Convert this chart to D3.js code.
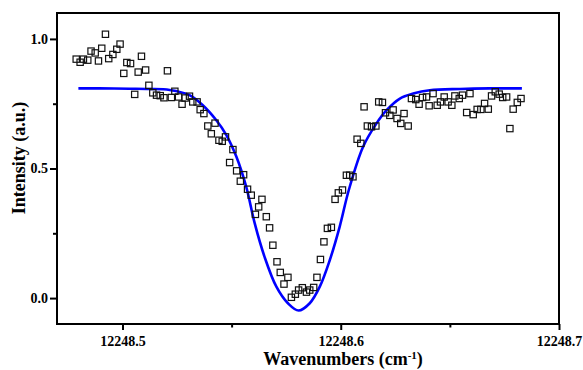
<!DOCTYPE html>
<html>
<head>
<meta charset="utf-8">
<script src="https://cdn.jsdelivr.net/npm/d3@7"></script>
<style>
  html, body { margin: 0; padding: 0; background: #fff; }
  svg { display: block; font-family: 'Liberation Serif', 'Times New Roman', serif; }
</style>
</head>
<body>
<svg></svg>
<script>
// measured spectrum (wavenumber, intensity)
const wavenumbers = [
  12248.4788, 12248.4806, 12248.4821, 12248.4841, 12248.4856, 12248.4875, 12248.4890, 12248.4905,
  12248.4922, 12248.4937, 12248.4956, 12248.4974, 12248.4989, 12248.5006, 12248.5020, 12248.5037,
  12248.5056, 12248.5072, 12248.5087, 12248.5106, 12248.5121, 12248.5139, 12248.5156, 12248.5173,
  12248.5190, 12248.5206, 12248.5224, 12248.5240, 12248.5257, 12248.5273, 12248.5287, 12248.5307,
  12248.5322, 12248.5342, 12248.5356, 12248.5373, 12248.5391, 12248.5407, 12248.5424, 12248.5442,
  12248.5457, 12248.5472, 12248.5491, 12248.5506, 12248.5523, 12248.5540, 12248.5555, 12248.5573,
  12248.5590, 12248.5609, 12248.5624, 12248.5639, 12248.5659, 12248.5674, 12248.5689, 12248.5708,
  12248.5723, 12248.5740, 12248.5758, 12248.5774, 12248.5792, 12248.5807, 12248.5824, 12248.5843,
  12248.5858, 12248.5876, 12248.5891, 12248.5907, 12248.5923, 12248.5939, 12248.5957, 12248.5974,
  12248.5989, 12248.6008, 12248.6026, 12248.6041, 12248.6056, 12248.6075, 12248.6092, 12248.6107,
  12248.6122, 12248.6141, 12248.6161, 12248.6174, 12248.6191, 12248.6205, 12248.6225, 12248.6240,
  12248.6258, 12248.6275, 12248.6290, 12248.6309, 12248.6324, 12248.6344, 12248.6359, 12248.6375,
  12248.6393, 12248.6405, 12248.6423, 12248.6442, 12248.6457, 12248.6474, 12248.6492, 12248.6509,
  12248.6523, 12248.6543, 12248.6558, 12248.6577, 12248.6592, 12248.6607, 12248.6625, 12248.6642,
  12248.6659, 12248.6676, 12248.6691, 12248.6708, 12248.6726, 12248.6742, 12248.6760, 12248.6775,
  12248.6790, 12248.6809, 12248.6826
]
const intensities = [
  0.922, 0.910, 0.922, 0.918, 0.953, 0.946, 0.915, 0.964,
  1.018, 0.924, 0.940, 0.960, 0.980, 0.867, 0.909, 0.905,
  0.786, 0.872, 0.933, 0.880, 0.821, 0.792, 0.783, 0.781,
  0.773, 0.877, 0.774, 0.798, 0.776, 0.748, 0.772, 0.779,
  0.757, 0.757, 0.727, 0.712, 0.664, 0.634, 0.675, 0.609,
  0.605, 0.622, 0.523, 0.573, 0.491, 0.451, 0.476, 0.420,
  0.397, 0.323, 0.352, 0.381, 0.314, 0.271, 0.204, 0.140,
  0.099, 0.054, 0.080, 0.003, 0.015, 0.031, 0.040, 0.023,
  0.031, 0.041, 0.080, 0.149, 0.217, 0.269, 0.273, 0.381,
  0.406, 0.417, 0.474, 0.474, 0.468, 0.613, 0.597, 0.738,
  0.664, 0.661, 0.664, 0.757, 0.755, 0.715, 0.705, 0.726,
  0.693, 0.674, 0.712, 0.664, 0.770, 0.766, 0.748, 0.774,
  0.776, 0.742, 0.789, 0.744, 0.757, 0.776, 0.757, 0.744,
  0.780, 0.770, 0.783, 0.716, 0.789, 0.708, 0.728, 0.728,
  0.751, 0.729, 0.780, 0.796, 0.787, 0.774, 0.776, 0.654,
  0.729, 0.755, 0.770
]

// fitted profile
const fitWavenumbers = [
  12248.4798, 12248.4894, 12248.5032, 12248.5124, 12248.5216, 12248.5307, 12248.5368, 12248.5430,
  12248.5476, 12248.5522, 12248.5567, 12248.5606, 12248.5651, 12248.5705, 12248.5758, 12248.5807,
  12248.5858, 12248.5904, 12248.5950, 12248.5995, 12248.6037, 12248.6102, 12248.6164, 12248.6210,
  12248.6271, 12248.6332, 12248.6408, 12248.6546, 12248.6683, 12248.6830
]
const fitIntensities = [
  0.809, 0.809, 0.808, 0.807, 0.803, 0.783, 0.744, 0.686,
  0.629, 0.545, 0.429, 0.288, 0.159, 0.044, -0.020, -0.048,
  -0.020, 0.044, 0.147, 0.275, 0.417, 0.583, 0.674, 0.725,
  0.770, 0.789, 0.802, 0.807, 0.809, 0.809
]

const xMajorTicks = [12248.5, 12248.6, 12248.7]
const xMinorTicks = [12248.55, 12248.65]
const yMajorTicks = [0.0, 0.5, 1.0]
const yMinorTicks = [0.25, 0.75]

const w = 583
const h = 370
const padLeft = 57
const padRight = 559
const padTop = 13
const padBottom = 324

const svg = d3.select('svg').attr('width', w).attr('height', h)

const scaleX = d3.scaleLinear().domain([12248.47, 12248.7]).range([padLeft, padRight])
const scaleY = d3.scaleLinear().domain([-0.1, 1.1]).range([padBottom, padTop])

const points = wavenumbers.map((x, i) => ({ x, y: intensities[i] }))
const fit = fitWavenumbers.map((x, i) => ({ x, y: fitIntensities[i] }))

// axes
const xAxis = d3.axisBottom(scaleX).tickValues(xMajorTicks).tickSize(6).tickPadding(6)
  .tickFormat(d3.format('.1f'))
const xMinor = d3.axisBottom(scaleX).tickValues(xMinorTicks).tickSize(3.5).tickFormat('')
const yAxis = d3.axisLeft(scaleY).tickValues(yMajorTicks).tickSize(7).tickPadding(2)
  .tickFormat(d3.format('.1f'))
const yMinor = d3.axisLeft(scaleY).tickValues(yMinorTicks).tickSize(4).tickFormat('')

function styleAxis(g) {
  g.select('.domain').remove()
  g.selectAll('.tick line').attr('stroke', '#000').attr('stroke-width', 2)
  g.selectAll('.tick text')
    .attr('fill', '#000')
    .style('font-size', '14px')
    .style('font-weight', 'bold')
    .style('font-family', "'Liberation Serif', serif")
}

svg.append('g').attr('transform', `translate(0, ${padBottom})`).call(xAxis).call(styleAxis)
svg.append('g').attr('transform', `translate(0, ${padBottom})`).call(xMinor).call(styleAxis)
svg.append('g').attr('transform', `translate(${padLeft}, 0)`).call(yAxis).call(styleAxis)
svg.append('g').attr('transform', `translate(${padLeft}, 0)`).call(yMinor).call(styleAxis)

// fit line
const line = d3.line()
  .x((d) => scaleX(d.x))
  .y((d) => scaleY(d.y))
  .curve(d3.curveCatmullRom)

svg.append('path')
  .datum(fit)
  .attr('d', line)
  .attr('fill', 'none')
  .attr('stroke', '#0000ff')
  .attr('stroke-width', 2.6)

// data squares
const s = 6.3
svg.selectAll('.dot')
  .data(points)
  .enter()
  .append('rect')
  .attr('class', 'dot')
  .attr('x', (d) => scaleX(d.x) - s / 2)
  .attr('y', (d) => scaleY(d.y) - s / 2)
  .attr('width', s)
  .attr('height', s)
  .attr('fill', 'none')
  .attr('stroke', '#111')
  .attr('stroke-width', 1.2)

// frame
svg.append('rect')
  .attr('x', padLeft)
  .attr('y', padTop)
  .attr('width', padRight - padLeft)
  .attr('height', padBottom - padTop)
  .attr('fill', 'none')
  .attr('stroke', '#000')
  .attr('stroke-width', 2)

// titles
const xTitle = svg.append('text')
  .attr('x', 343)
  .attr('y', 365)
  .attr('text-anchor', 'middle')
  .style('font-size', '18px')
  .style('font-weight', 'bold')
xTitle.append('tspan').text('Wavenumbers (cm')
xTitle.append('tspan').attr('dy', -6).style('font-size', '11px').text('-1')
xTitle.append('tspan').attr('dy', 6).text(')')

svg.append('text')
  .attr('transform', `translate(25, 158) rotate(-90)`)
  .attr('text-anchor', 'middle')
  .style('font-size', '18px')
  .style('font-weight', 'bold')
  .text('Intensity (a.u.)')
</script>
</body>
</html>
